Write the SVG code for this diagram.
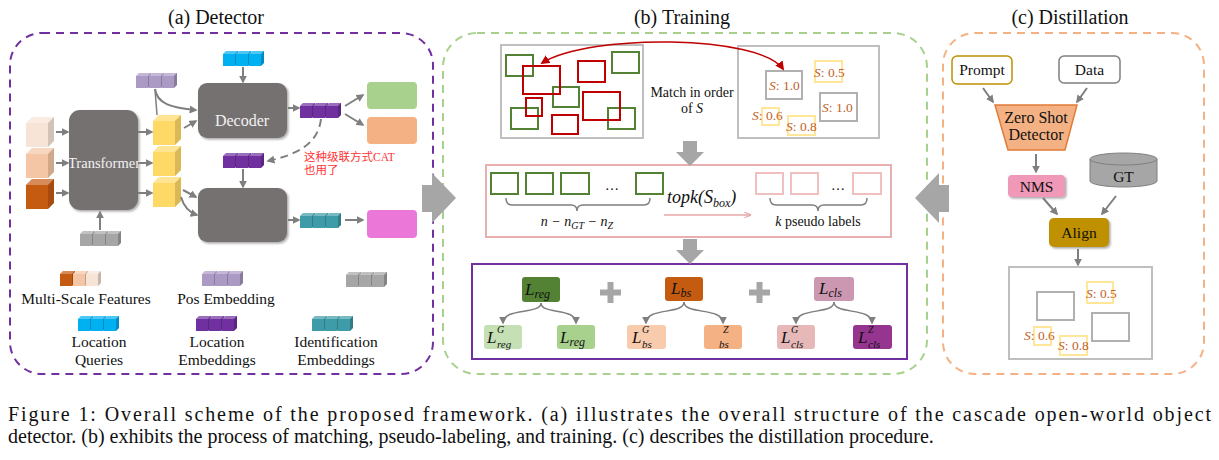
<svg xmlns="http://www.w3.org/2000/svg" width="1219" height="460" viewBox="0 0 1219 460">
<style>
text{font-family:'Liberation Serif',serif}
.t{fill:#111}
.ti{font-style:italic;fill:#111}
.title{font-size:20px}
.leg{font-size:15.5px;text-anchor:middle}
.wt{fill:#f2f2f2}
.ln{fill:none;stroke:#7f7f7f;stroke-width:2}
.lnt{fill:none;stroke:#7f7f7f;stroke-width:1.5}
.gbox{fill:none;stroke:#548235;stroke-width:2}
.rbox{fill:none;stroke:#c00000;stroke-width:2}
.frame{fill:#fff;stroke:#bfbfbf;stroke-width:2}
.ybox{fill:none;stroke:#ffe699;stroke-width:2}
.gy{fill:none;stroke:#b0b0b0;stroke-width:2}
.sc{font-size:13.5px;fill:#c0622a}
.dark{fill:#767171}
.lossT{font-size:17px}
.sub{font-size:11px}
.sup{font-size:10px}
.big{fill:#a6a6a6}
.cap{font-size:20px;fill:#111}
</style>
<defs>
<filter id="sh" x="-20%" y="-20%" width="150%" height="150%"><feDropShadow dx="1.5" dy="1.5" stdDeviation="1.2" flood-color="#000" flood-opacity=".35"/></filter>
<marker id="ag" viewBox="0 0 10 10" refX="8" refY="5" markerWidth="8" markerHeight="8" markerUnits="userSpaceOnUse" orient="auto"><path d="M0,0 L10,5 L0,10 z" fill="#7f7f7f"/></marker>
<marker id="ar" viewBox="0 0 10 10" refX="8" refY="5" markerWidth="9" markerHeight="9" markerUnits="userSpaceOnUse" orient="auto-start-reverse"><path d="M0,0 L10,5 L0,10 z" fill="#c00000"/></marker>
<marker id="ap" viewBox="0 0 10 10" refX="8" refY="5" markerWidth="7" markerHeight="7" markerUnits="userSpaceOnUse" orient="auto"><path d="M0,1 L10,5 L0,9" fill="none" stroke="#e8a7a7" stroke-width="1.5"/></marker>
<g id="cube">
<path d="M0,3 L3,0 L15,0 L15,12 L12,15 L0,15 Z"/>
<path d="M0,3 L3,0 L15,0 L12,3 Z" fill="#fff" fill-opacity=".3"/>
<path d="M12,3 L15,0 L15,12 L12,15 Z" fill="#000" fill-opacity=".2"/>
</g>
<g id="strip"><use href="#cube"/><use href="#cube" x="13"/><use href="#cube" x="26"/></g>
<g id="bcube">
<path d="M0,6 L6,0 L28,0 L28,24 L22,30 L0,30 Z"/>
<path d="M0,6 L6,0 L28,0 L22,6 Z" fill="#fff" fill-opacity=".3"/>
<path d="M22,6 L28,0 L28,24 L22,30 Z" fill="#000" fill-opacity=".15"/>
</g>
</defs>
<rect width="1219" height="460" fill="#fff"/>

<g id="panel-a">
<rect x="10" y="33" width="423" height="341" rx="32" fill="none" stroke="#7030a0" stroke-width="2" stroke-dasharray="8,6"/>
<text class="t title" x="216" y="24" text-anchor="middle">(a) Detector</text>
</g>
<g id="panel-b">
<rect x="443" y="33" width="484" height="341" rx="34" fill="none" stroke="#a9d18e" stroke-width="2" stroke-dasharray="8,6"/>
<text class="t title" x="682" y="24" text-anchor="middle">(b) Training</text>
</g>
<g id="panel-c">
<rect x="943" y="33" width="261" height="341" rx="32" fill="none" stroke="#f4b183" stroke-width="2" stroke-dasharray="8,6"/>
<text class="t title" x="1070" y="24" text-anchor="middle">(c) Distillation</text>
</g>

<g id="multiscale-features">
<use href="#bcube" x="26" y="117" fill="#f8e4d6"/>
<use href="#bcube" x="26" y="148" fill="#f5c6a5"/>
<use href="#bcube" x="26" y="179" fill="#c55a11"/>
</g>
<g id="transformer">
<rect x="69" y="110" width="69" height="100" rx="11" class="dark" filter="url(#sh)"/>
<text class="t wt" x="104" y="168" font-size="14.5" text-anchor="middle">Transformer</text>
</g>
<g id="yellow-features">
<use href="#bcube" x="153" y="115" fill="#ffd966"/>
<use href="#bcube" x="153" y="146" fill="#ffd966"/>
<use href="#bcube" x="153" y="177" fill="#ffd966"/>
</g>
<g id="grey-embedding"><use href="#strip" x="80" y="231" fill="#a6a6a6"/></g>
<g id="pos-embedding"><use href="#strip" x="136" y="73" fill="#ab9ac4"/></g>
<g id="location-queries"><use href="#strip" x="223" y="51" fill="#00b0f0"/></g>
<g id="decoder">
<rect x="198" y="83" width="89" height="55" rx="9" class="dark" filter="url(#sh)"/>
<text class="t wt" x="242" y="126" font-size="16" text-anchor="middle">Decoder</text>
</g>
<g id="location-embeddings"><use href="#strip" x="300" y="103" fill="#7030a0"/></g>
<g id="green-out"><rect x="367" y="82" width="50" height="27" rx="4" fill="#a9d18e"/></g>
<g id="orange-out"><rect x="367" y="117" width="50" height="27" rx="4" fill="#f4b183"/></g>
<g id="location-embeddings-2"><use href="#strip" x="223" y="153" fill="#7030a0"/></g>
<g id="note">
<text x="304" y="161" font-size="11.5" fill="#ff3333" style="font-family:'Liberation Serif','Noto Sans CJK SC',serif">这种级联方式CAT</text>
<text x="304" y="174" font-size="11.5" fill="#ff3333" style="font-family:'Liberation Serif','Noto Sans CJK SC',serif">也用了</text>
</g>
<g id="second-decoder"><rect x="198" y="188" width="89" height="54" rx="9" class="dark" filter="url(#sh)"/></g>
<g id="identification-embeddings"><use href="#strip" x="300" y="213" fill="#3e9ca8"/></g>
<g id="pink-out"><rect x="367" y="210" width="50" height="28" rx="4" fill="#eb78d8"/></g>

<g id="legend">
<use href="#cube" x="60" y="271" fill="#c55a11"/>
<use href="#cube" x="73" y="271" fill="#f5c6a5"/>
<use href="#cube" x="86" y="271" fill="#f8e4d6"/>
<text class="t leg" x="86" y="304">Multi-Scale Features</text>
<use href="#strip" x="202" y="271" fill="#ab9ac4"/>
<text class="t leg" x="226" y="304">Pos Embedding</text>
<use href="#strip" x="346" y="272" fill="#a6a6a6"/>
<use href="#strip" x="78" y="316" fill="#00b0f0"/>
<text class="t leg" x="99" y="347">Location</text>
<text class="t leg" x="99" y="365">Queries</text>
<use href="#strip" x="196" y="316" fill="#7030a0"/>
<text class="t leg" x="217" y="347">Location</text>
<text class="t leg" x="217" y="365">Embeddings</text>
<use href="#strip" x="312" y="316" fill="#3e9ca8"/>
<text class="t leg" x="336" y="347">Identification</text>
<text class="t leg" x="336" y="365">Embeddings</text>
</g>

<g id="gt-image">
<rect x="501" y="45" width="142" height="93" class="frame"/>
<rect x="506" y="55" width="27" height="21" class="gbox"/>
<rect x="612" y="52" width="27" height="21" class="gbox"/>
<rect x="553" y="87" width="26" height="20" class="gbox"/>
<rect x="511" y="108" width="27" height="21" class="gbox"/>
<rect x="608" y="108" width="27" height="21" class="gbox"/>
<rect x="523" y="66" width="37" height="28" class="rbox"/>
<rect x="578" y="61" width="27" height="21" class="rbox"/>
<rect x="526" y="98" width="16" height="18" class="rbox"/>
<rect x="583" y="92" width="37" height="28" class="rbox"/>
<rect x="552" y="115" width="26" height="19" class="rbox"/>
</g>
<g id="match-label">
<text class="t" x="692" y="97" font-size="14" text-anchor="middle">Match in order</text>
<text class="t" x="692" y="113" font-size="14" text-anchor="middle">of <tspan class="ti" fill="#c55a11">S</tspan></text>
</g>
<g id="pred-image">
<rect x="738" y="46" width="141" height="92" class="frame"/>
<rect x="766" y="71" width="36" height="28" class="gy"/>
<text class="t sc" x="769" y="90"><tspan font-style="italic">S</tspan>: 1.0</text>
<rect x="820" y="93" width="37" height="28" class="gy"/>
<text class="t sc" x="822" y="112"><tspan font-style="italic">S</tspan>: 1.0</text>
<rect x="815" y="61" width="27" height="21" class="ybox"/>
<text class="t sc" x="814" y="77"><tspan font-style="italic">S</tspan>: 0.5</text>
<rect x="762" y="108" width="17" height="17" class="ybox"/>
<text class="t sc" x="752" y="120"><tspan font-style="italic">S</tspan>: 0.6</text>
<rect x="788" y="116" width="27" height="19" class="ybox"/>
<text class="t sc" x="786" y="131"><tspan font-style="italic">S</tspan>: 0.8</text>
</g>
<g id="pseudo-label-box">
<rect x="486" y="165" width="405" height="72" fill="none" stroke="#e6b0b0" stroke-width="2"/>
<rect x="491" y="173" width="27" height="21" class="gbox"/>
<rect x="526" y="173" width="27" height="21" class="gbox"/>
<rect x="561" y="173" width="28" height="21" class="gbox"/>
<text class="t" x="612" y="190" font-size="14" text-anchor="middle">…</text>
<rect x="636" y="173" width="27" height="21" class="gbox"/>
<path d="M506,198 Q506,205 512,205 L571,205 Q577,205 577,211 Q577,205 583,205 L644,205 Q650,205 650,198" class="lnt"/>
<text class="ti" x="577" y="226" font-size="14" text-anchor="middle">n − n<tspan font-size="10" dy="3">GT</tspan><tspan dy="-3"> − n</tspan><tspan font-size="10" dy="3">Z</tspan></text>
<text class="ti" x="667" y="203" font-size="18">topk(S<tspan font-size="12" dy="4">box</tspan><tspan dy="-4">)</tspan></text>
<rect x="756" y="173" width="27" height="21" fill="none" stroke="#f0c0c0" stroke-width="2"/>
<rect x="791" y="173" width="27" height="21" fill="none" stroke="#f0c0c0" stroke-width="2"/>
<text class="t" x="838" y="190" font-size="14" text-anchor="middle">…</text>
<rect x="853" y="173" width="28" height="21" fill="none" stroke="#f0c0c0" stroke-width="2"/>
<path d="M770,198 Q770,205 776,205 L812,205 Q818,205 818,211 Q818,205 824,205 L861,205 Q867,205 867,198" class="lnt"/>
<text class="t" x="818" y="226" font-size="14" text-anchor="middle"><tspan font-style="italic">k</tspan> pseudo labels</text>
</g>
<g id="loss-box">
<rect x="472" y="264" width="435" height="95" fill="none" stroke="#7030a0" stroke-width="2"/>
</g>
<g id="loss-reg">
<rect x="522" y="277" width="38" height="25" rx="3" fill="#548235"/>
<text class="ti lossT" x="525" y="295">L<tspan font-size="12" dy="3">reg</tspan></text>
</g>
<g id="loss-reg-g">
<rect x="484" y="325" width="38" height="24" rx="3" fill="#c5e0b4"/>
<text class="ti lossT" x="487" y="343">L<tspan class="sup" x="497" y="333">G</tspan><tspan class="sub" x="497" y="347.5">reg</tspan></text>
</g>
<g id="loss-reg-c">
<rect x="557" y="325" width="38" height="24" rx="3" fill="#a9d18e"/>
<text class="ti lossT" x="560" y="343">L<tspan font-size="12" dy="3">reg</tspan></text>
</g>
<g id="plus-1"><path d="M600,292.5 H621 M610.5,282 V303" stroke="#a6a6a6" stroke-width="6" fill="none"/></g>
<g id="loss-bs">
<rect x="665" y="277" width="38" height="24" rx="3" fill="#c55a11"/>
<text class="ti lossT" x="671" y="294">L<tspan font-size="12" dy="3">bs</tspan></text>
</g>
<g id="loss-bs-g">
<rect x="627" y="325" width="39" height="24" rx="3" fill="#f8cbad"/>
<text class="ti lossT" x="632" y="343">L<tspan class="sup" x="642" y="333">G</tspan><tspan class="sub" x="642" y="347.5">bs</tspan></text>
</g>
<g id="loss-bs-z">
<rect x="704" y="325" width="38" height="24" rx="3" fill="#f4b183"/>
<text class="ti sup" x="723" y="333">Z<tspan class="sub" x="719" y="347.5">bs</tspan></text>
</g>
<g id="plus-2"><path d="M749,292.5 H770 M759.5,282 V303" stroke="#a6a6a6" stroke-width="6" fill="none"/></g>
<g id="loss-cls">
<rect x="814" y="277" width="40" height="24" rx="3" fill="#cc97b0"/>
<text class="ti lossT" x="819" y="294">L<tspan font-size="12" dy="3">cls</tspan></text>
</g>
<g id="loss-cls-g">
<rect x="777" y="325" width="38" height="24" rx="3" fill="#e6b9b8"/>
<text class="ti lossT" x="781" y="343">L<tspan class="sup" x="791" y="333">G</tspan><tspan class="sub" x="791" y="347.5">cls</tspan></text>
</g>
<g id="loss-cls-z">
<rect x="853" y="325" width="39" height="24" rx="3" fill="#953590"/>
<text class="ti lossT" x="858" y="343">L<tspan class="sup" x="868" y="333">Z</tspan><tspan class="sub" x="868" y="347.5">cls</tspan></text>
</g>

<g id="prompt">
<rect x="952" y="56" width="60" height="28" rx="5" fill="#fff" stroke="#bf9000" stroke-width="1.5"/>
<text class="t" x="982" y="75" font-size="15.5" text-anchor="middle">Prompt</text>
</g>
<g id="data">
<rect x="1059" y="56" width="61" height="27" rx="5" fill="#fff" stroke="#7f7f7f" stroke-width="1.5"/>
<text class="t" x="1089.5" y="75" font-size="15.5" text-anchor="middle">Data</text>
</g>
<g id="zero-shot-detector">
<path d="M995,105 L1077,105 L1065,150 L1008,150 Z" fill="#f4b183" stroke="#e07b39" stroke-width="1.5"/>
<text class="t" x="1036" y="123" font-size="16" text-anchor="middle">Zero Shot</text>
<text class="t" x="1036" y="140" font-size="16" text-anchor="middle">Detector</text>
</g>
<g id="nms">
<rect x="1008" y="175" width="57" height="22" rx="4" fill="#ef98b8" filter="url(#sh)"/>
<text class="t" x="1036.5" y="192" font-size="15.5" text-anchor="middle">NMS</text>
</g>
<g id="gt">
<path d="M1090,159 V181 A33.5,6 0 0 0 1157,181 V159" fill="#a6a6a6" stroke="#7f7f7f" stroke-width="1"/>
<ellipse cx="1123.5" cy="159" rx="33.5" ry="6" fill="#a6a6a6" stroke="#7f7f7f" stroke-width="1"/>
<text class="t" x="1123.5" y="182" font-size="15.5" text-anchor="middle">GT</text>
</g>
<g id="align">
<rect x="1049" y="218" width="60" height="29" rx="5" fill="#bf9000" filter="url(#sh)"/>
<text class="t" x="1079" y="238" font-size="15.5" text-anchor="middle">Align</text>
</g>
<g id="distilled-labels">
<rect x="1009" y="267" width="143" height="92" class="frame"/>
<rect x="1037" y="292" width="37" height="28" class="gy"/>
<rect x="1092" y="313" width="37" height="28" class="gy"/>
<rect x="1087" y="282" width="26" height="21" class="ybox"/>
<text class="t sc" x="1086" y="298"><tspan font-style="italic">S</tspan>: 0.5</text>
<rect x="1034" y="327" width="17" height="18" class="ybox"/>
<text class="t sc" x="1024" y="340"><tspan font-style="italic">S</tspan>: 0.6</text>
<rect x="1060" y="336" width="27" height="19" class="ybox"/>
<text class="t sc" x="1058" y="350"><tspan font-style="italic">S</tspan>: 0.8</text>
</g>

<g id="connectors">
<path d="M56,132 H68" class="ln" marker-end="url(#ag)"/>
<path d="M56,163 H68" class="ln" marker-end="url(#ag)"/>
<path d="M56,193 H68" class="ln" marker-end="url(#ag)"/>
<path d="M138,132 H152" class="ln" marker-end="url(#ag)"/>
<path d="M138,163 H152" class="ln" marker-end="url(#ag)"/>
<path d="M138,193 H152" class="ln" marker-end="url(#ag)"/>
<path d="M100,230 V212" class="ln" marker-end="url(#ag)"/>
<path d="M155,89 L157,115" class="lnt"/>
<path d="M155,89 C157,104 172,108 196,110" class="ln" marker-end="url(#ag)"/>
<path d="M184,128 L196,121" class="ln" marker-end="url(#ag)"/>
<path d="M243,67 V82" class="ln" marker-end="url(#ag)"/>
<path d="M288,108 H299" class="ln" marker-end="url(#ag)"/>
<path d="M345,106 L363,95" class="ln" marker-end="url(#ag)"/>
<path d="M345,114 L363,125" class="ln" marker-end="url(#ag)"/>
<path d="M321,119 C318,145 295,155 268,161" fill="none" stroke="#7f7f7f" stroke-width="2" stroke-dasharray="8,5" marker-end="url(#ag)"/>
<path d="M243,169 V187" class="ln" marker-end="url(#ag)"/>
<path d="M183,190 L196,197" class="ln" marker-end="url(#ag)"/>
<path d="M181,197 Q185,211 197,215" class="ln" marker-end="url(#ag)"/>
<path d="M288,220 H299" class="ln" marker-end="url(#ag)"/>
<path d="M345,220 H363" class="ln" marker-end="url(#ag)"/>
<path d="M783,69 C760,35 590,33 542,63" fill="none" stroke="#c00000" stroke-width="1.5" marker-start="url(#ar)" marker-end="url(#ar)"/>
<path d="M664,215 H750" fill="none" stroke="#e8a7a7" stroke-width="1.5" marker-end="url(#ap)"/>
<path d="M541,303 C541,315 503,307 503,323" class="lnt" marker-end="url(#ag)"/>
<path d="M541,303 C541,315 576,307 576,323" class="lnt" marker-end="url(#ag)"/>
<path d="M684,302 C684,315 646,307 646,323" class="lnt" marker-end="url(#ag)"/>
<path d="M684,302 C684,315 723,307 723,323" class="lnt" marker-end="url(#ag)"/>
<path d="M834,302 C834,315 796,307 796,323" class="lnt" marker-end="url(#ag)"/>
<path d="M834,302 C834,315 872,307 872,323" class="lnt" marker-end="url(#ag)"/>
<path d="M983,88 L993,102" class="ln" marker-end="url(#ag)"/>
<path d="M1087,88 L1077,102" class="ln" marker-end="url(#ag)"/>
<path d="M1036,154 V172" class="ln" marker-end="url(#ag)"/>
<path d="M1043,198 L1057,214" class="ln" marker-end="url(#ag)"/>
<path d="M1116,196 L1102,214" class="ln" marker-end="url(#ag)"/>
<path d="M1078,249 V265" class="ln" marker-end="url(#ag)"/>
<path d="M683,141 H697 V152 H704 L690,166 L676,152 H683 Z" class="big"/>
<path d="M683,239 H697 V250 H704 L690,264 L676,250 H683 Z" class="big"/>
<path d="M422,185 H432 V173 L456,198 L432,223 V212 H422 Z" class="big"/>
<path d="M949,185 H939 V173 L915,198 L939,223 V212 H949 Z" class="big"/>
</g>

<g id="caption">
<text class="cap" x="8" y="421" textLength="1203" lengthAdjust="spacing">Figure 1: Overall scheme of the proposed framework. (a) illustrates the overall structure of the cascade open-world object</text>
<text class="cap" x="8" y="443">detector. (b) exhibits the process of matching, pseudo-labeling, and training. (c) describes the distillation procedure.</text>
</g>
</svg>
